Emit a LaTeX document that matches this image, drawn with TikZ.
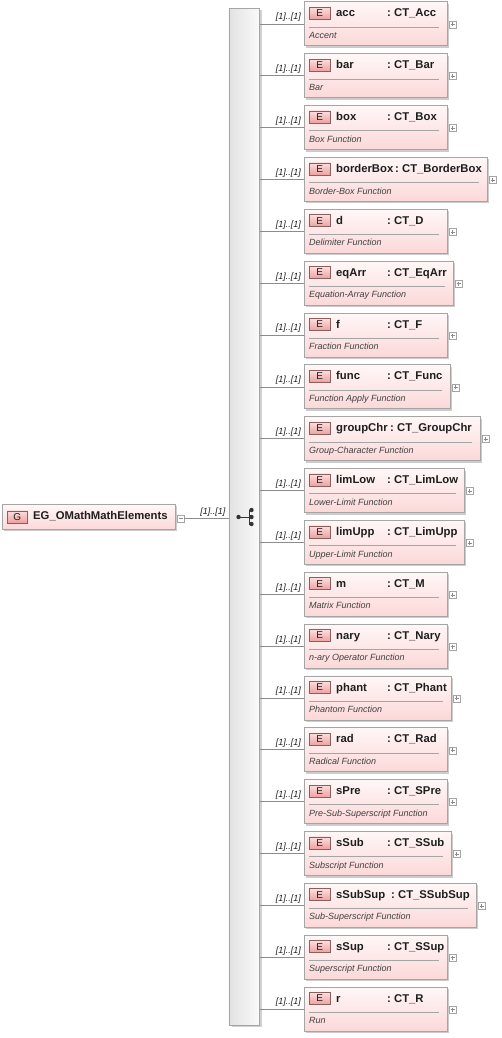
\documentclass[tikz,border=0pt]{standalone}
\usepackage{fontspec}
\setmainfont{Liberation Sans}
\usetikzlibrary{shadows,calc}
\definecolor{bordergray}{RGB}{165,165,165}
\definecolor{linegray}{RGB}{140,140,140}
\definecolor{boxtop}{RGB}{255,247,247}
\definecolor{boxbot}{RGB}{252,216,216}
\definecolor{badgetop}{RGB}{252,222,222}
\definecolor{badgebot}{RGB}{238,160,160}
\definecolor{badgeborder}{RGB}{140,95,95}
\definecolor{bartop}{RGB}{226,226,226}
\definecolor{barbot}{RGB}{250,250,250}
\definecolor{txt}{RGB}{30,30,30}
\tikzset{
  ebox/.style={draw=bordergray, line width=0.8pt, rectangle, inner sep=0pt,
    top color=boxtop, bottom color=boxbot,
    drop shadow={shadow xshift=2pt, shadow yshift=-2pt, fill=black!20, opacity=1}},
  badge/.style={draw=badgeborder, line width=0.6pt, rectangle, inner sep=0pt,
    minimum width=21pt, minimum height=12pt, top color=badgetop, bottom color=badgebot,
    font=\fontsize{10}{10}\selectfont, text=txt},
  ename/.style={inner sep=0pt, font=\fontsize{11.3}{12}\selectfont\bfseries, text=txt},
  edesc/.style={inner sep=0pt, font=\fontsize{9}{9}\selectfont\itshape, text=txt!85},
  card/.style={inner sep=0pt, font=\fontsize{9}{9}\selectfont\itshape, text=txt},
  plusbox/.style={draw=bordergray, fill=white, line width=0.5pt, rectangle, inner sep=0pt,
    minimum width=7pt, minimum height=7pt},
  sepline/.style={draw=bordergray, line width=0.6pt},
  conn/.style={draw=linegray, line width=0.7pt},
  rail/.style={draw=bordergray, line width=0.8pt, rectangle, inner sep=0pt,
    left color=bartop, right color=barbot,
    drop shadow={shadow xshift=3pt, shadow yshift=-2pt, fill=black!18, opacity=1}},
}
\newcommand\elemrow[6]{%
  \pgfmathsetmacro\tp{1.5+51.85*(#1-1)}%
  \node[ebox, minimum width={#5-304}, minimum height=44pt, anchor=north west] (e#1) at (304,\tp) {};
  \node[badge, anchor=north west] (e#1b) at (309,\tp+5.5) {E};
  \node[ename, anchor=base west] (e#1n) at (336,\tp+15.5) {#2};
  \node[ename, anchor=base west] (e#1t) at (#6,\tp+15.5) {:\ #3};
  \draw[sepline] (309,\tp+25.5) -- (#5-8,\tp+25.5);
  \node[edesc, anchor=base west] (e#1d) at (309,\tp+37) {#4};
  \node[plusbox, anchor=west] (e#1p) at ($(e#1.east)+(1,0.5)$) {};
  \draw[linegray, line width=0.5pt] ($(e#1p.center)+(-2,0)$) -- ($(e#1p.center)+(2,0)$);
  \draw[linegray, line width=0.5pt] ($(e#1p.center)+(0,-2)$) -- ($(e#1p.center)+(0,2)$);
  \draw[conn] (e#1.west -| seq.east) -- (e#1.west);
  \node[card, anchor=south east] (e#1c) at ($(e#1.west)+(-3,-2)$) {[1]..[1]};
}
\begin{document}
\begin{tikzpicture}[x=1pt,y=-1pt]
\useasboundingbox (0,0) rectangle (501,1038);
% choice rail
\node[rail, minimum width=30.5pt, minimum height=1017pt, anchor=north west] (seq) at (228.5,8) {};
% group node
\node[ebox, minimum width=173pt, minimum height=25pt, anchor=north west] (g) at (2,504) {};
\node[badge, minimum width=20pt, anchor=north west] (gb) at (7,510.5) {G};
\node[ename, anchor=base west] (gn) at (33,519.5) {EG\_OMathMathElements};
\node[plusbox, anchor=west] (gm) at ($(g.east)+(1,1.5)$) {};
\draw[linegray, line width=0.5pt] ($(gm.center)+(-2,0)$) -- ($(gm.center)+(2,0)$);
\draw[conn] (gm.east) -- (gm.east -| seq.west);
\node[card, anchor=south east] (gc) at ($(gm.east -| seq.west)+(-3,-2)$) {[1]..[1]};
% choice symbol
\draw[black!80, line width=1pt] (238.5,517) -- (249.5,517) (249.5,509.5) -- (249.5,524.5);
\fill[black!80] (238.5,517) circle (2.2);
\fill[black!80] (251.5,510) circle (2.2);
\fill[black!80] (251.5,517) circle (2.2);
\fill[black!80] (251.5,524) circle (2.2);
% elements
\elemrow{1}{acc}{CT\_Acc}{Accent}{447}{387}
\elemrow{2}{bar}{CT\_Bar}{Bar}{447}{387}
\elemrow{3}{box}{CT\_Box}{Box Function}{447}{387}
\elemrow{4}{borderBox}{CT\_BorderBox}{Border-Box Function}{487}{395}
\elemrow{5}{d}{CT\_D}{Delimiter Function}{447}{387}
\elemrow{6}{eqArr}{CT\_EqArr}{Equation-Array Function}{453}{387}
\elemrow{7}{f}{CT\_F}{Fraction Function}{447}{387}
\elemrow{8}{func}{CT\_Func}{Function Apply Function}{450}{387}
\elemrow{9}{groupChr}{CT\_GroupChr}{Group-Character Function}{480}{390}
\elemrow{10}{limLow}{CT\_LimLow}{Lower-Limit Function}{464}{387}
\elemrow{11}{limUpp}{CT\_LimUpp}{Upper-Limit Function}{464}{387}
\elemrow{12}{m}{CT\_M}{Matrix Function}{447}{387}
\elemrow{13}{nary}{CT\_Nary}{n-ary Operator Function}{447}{387}
\elemrow{14}{phant}{CT\_Phant}{Phantom Function}{451}{387}
\elemrow{15}{rad}{CT\_Rad}{Radical Function}{447}{387}
\elemrow{16}{sPre}{CT\_SPre}{Pre-Sub-Superscript Function}{447}{387}
\elemrow{17}{sSub}{CT\_SSub}{Subscript Function}{451}{387}
\elemrow{18}{sSubSup}{CT\_SSubSup}{Sub-Superscript Function}{476}{391}
\elemrow{19}{sSup}{CT\_SSup}{Superscript Function}{447}{387}
\elemrow{20}{r}{CT\_R}{Run}{447}{387}
\end{tikzpicture}
\end{document}
